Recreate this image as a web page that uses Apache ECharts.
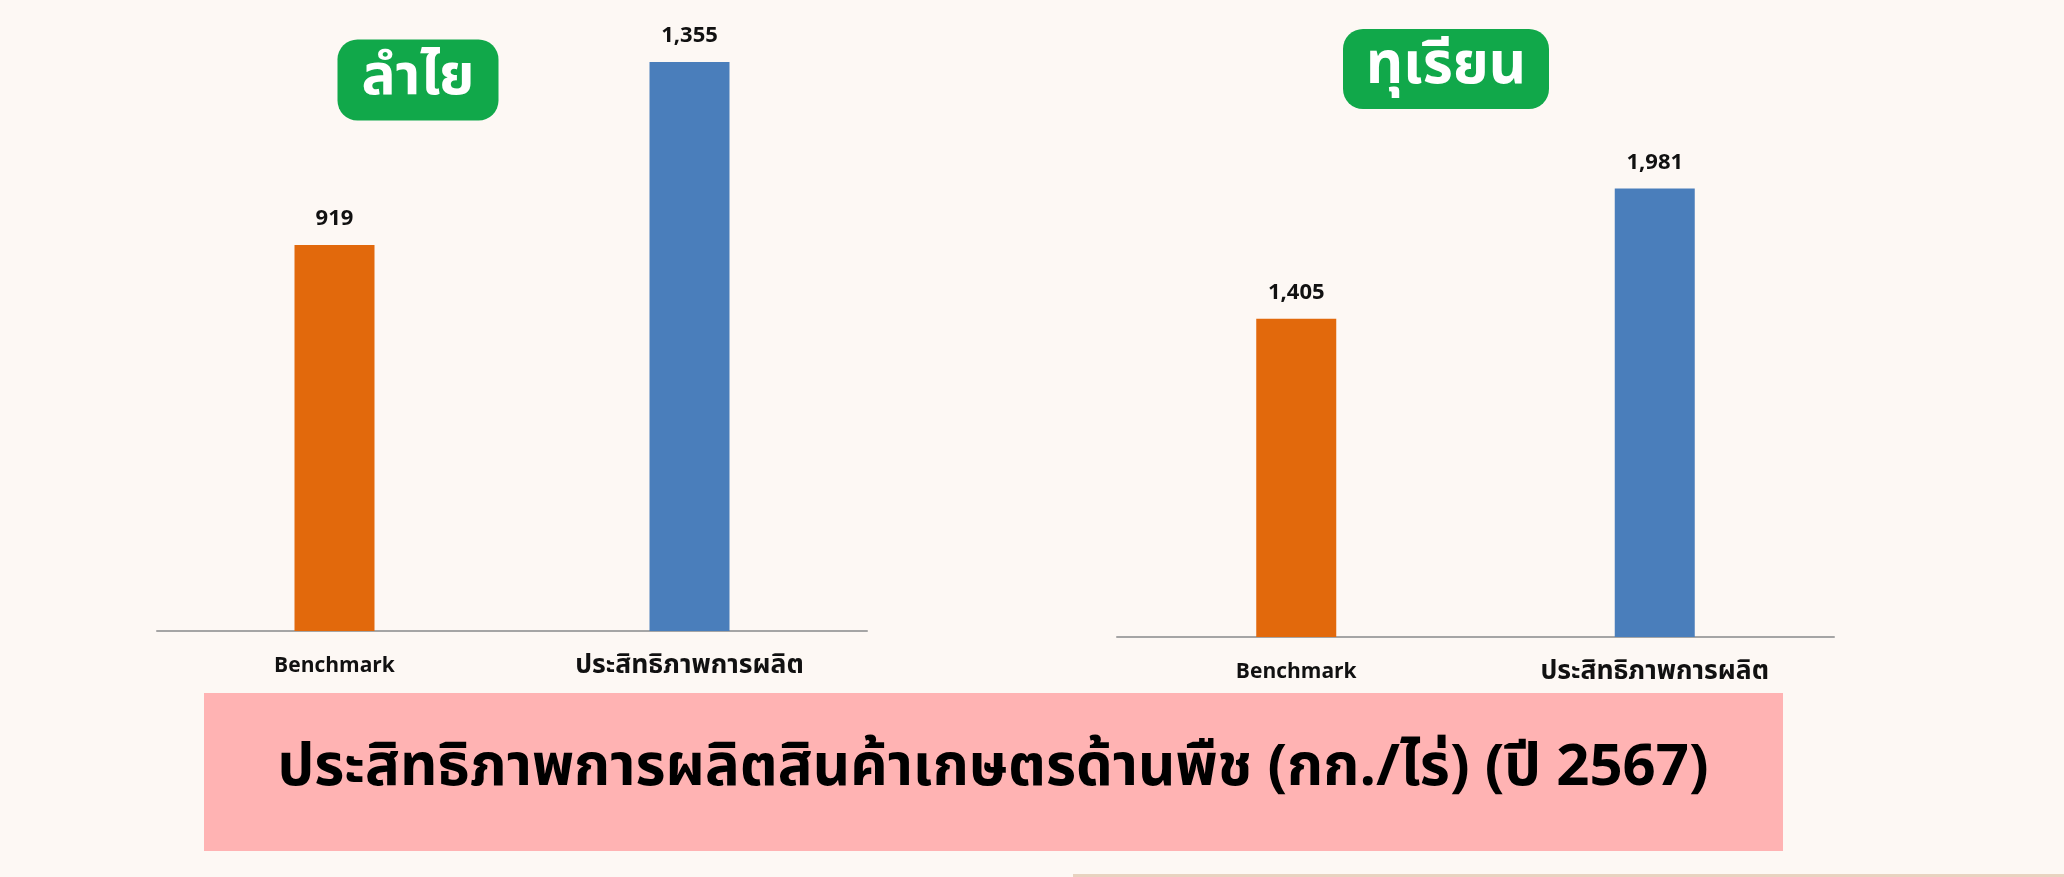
<!DOCTYPE html>
<html>
<head>
<meta charset="utf-8">
<script src="https://cdn.jsdelivr.net/npm/echarts@6/dist/echarts.min.js"></script>
<style>
  html, body { margin: 0; padding: 0; background: #FDF8F4; }
  #chart { width: 2064px; height: 877px; }
</style>
</head>
<body>
<div id="chart"></div>
<script>
// ---- data ----
const categories = ['Benchmark', 'ประสิทธิภาพการผลิต'];
const lamyaiValues = [919, 1355];
const durianValues = [1405, 1981];
const lamyaiTitle = 'ลำไย';
const durianTitle = 'ทุเรียน';
const mainTitle = 'ประสิทธิภาพการผลิตสินค้าเกษตรด้านพืช (กก./ไร่) (ปี 2567)';
const barColors = ['#E2690C', '#4A7EBB'];

const FONT = '"Noto Sans Thai", "Noto Sans", sans-serif';

const chart = echarts.init(document.getElementById('chart'), null, { renderer: 'canvas' });

function makeSeries(values, idx) {
  return {
    type: 'bar',
    xAxisIndex: idx,
    yAxisIndex: idx,
    barWidth: 80,
    data: values.map((v, i) => ({ value: v, itemStyle: { color: barColors[i] } })),
    label: {
      show: true,
      position: 'top',
      distance: 13,
      color: '#111',
      fontFamily: FONT,
      fontWeight: 'bold',
      fontSize: 22,
      formatter: p => p.value.toLocaleString('en-US')
    },
    silent: true
  };
}

const xAxisCommon = {
  type: 'category',
  data: categories,
  axisLine: { show: true, lineStyle: { color: '#A5A5A5', width: 2 } },
  axisTick: { show: false },
  axisLabel: {
    color: '#111', fontFamily: FONT, fontWeight: 'bold', fontSize: 21, margin: 22,
    formatter: v => /[\u0E00-\u0E7F]/.test(v) ? '{th|' + v + '}' : '{en|' + v + '}',
    rich: {
      en: { fontFamily: FONT, fontWeight: 'bold', fontSize: 21, color: '#111', height: 30 },
      th: { fontFamily: FONT, fontWeight: 'bold', fontSize: 26.5, color: '#111', height: 30 }
    }
  }
};
const yAxisCommon = {
  type: 'value',
  min: 0,
  show: false,
  splitLine: { show: false }
};

function labelBox(cx, cy, w, h, text, size) {
  return {
    type: 'group',
    children: [
      { type: 'rect', shape: { x: cx - w / 2, y: cy - h / 2, width: w, height: h, r: 20 }, style: { fill: '#11A84A' } },
      { type: 'text', x: cx, y: cy + 2, style: { text: text, fill: '#fff', font: 'bold ' + size + 'px ' + FONT, align: 'center', verticalAlign: 'middle' } }
    ]
  };
}

chart.setOption({
  backgroundColor: '#FDF8F4',
  animation: false,
  grid: [
    { left: 157, right: 1197, top: 1, bottom: 246 },
    { left: 1117, right: 230, top: 3, bottom: 240 }
  ],
  xAxis: [
    Object.assign({ gridIndex: 0 }, xAxisCommon),
    Object.assign({ gridIndex: 1 }, xAxisCommon)
  ],
  yAxis: [
    Object.assign({ gridIndex: 0, max: 1500 }, yAxisCommon),
    Object.assign({ gridIndex: 1, max: 2800 }, yAxisCommon)
  ],
  series: [makeSeries(lamyaiValues, 0), makeSeries(durianValues, 1)],
  graphic: [
    labelBox(418, 80, 161, 81, lamyaiTitle, 57),
    labelBox(1446, 69, 206, 80, durianTitle, 58),
    { type: 'rect', shape: { x: 204, y: 693, width: 1579, height: 158 }, style: { fill: '#FFB3B3' } },
    { type: 'text', x: 993, y: 773, style: { text: mainTitle, fill: '#000', font: 'bold 58px ' + FONT, align: 'center', verticalAlign: 'middle' } },
    { type: 'rect', shape: { x: 1073, y: 874, width: 991, height: 3 }, style: { fill: '#E8D3C0' } }
  ]
});
</script>
</body>
</html>
